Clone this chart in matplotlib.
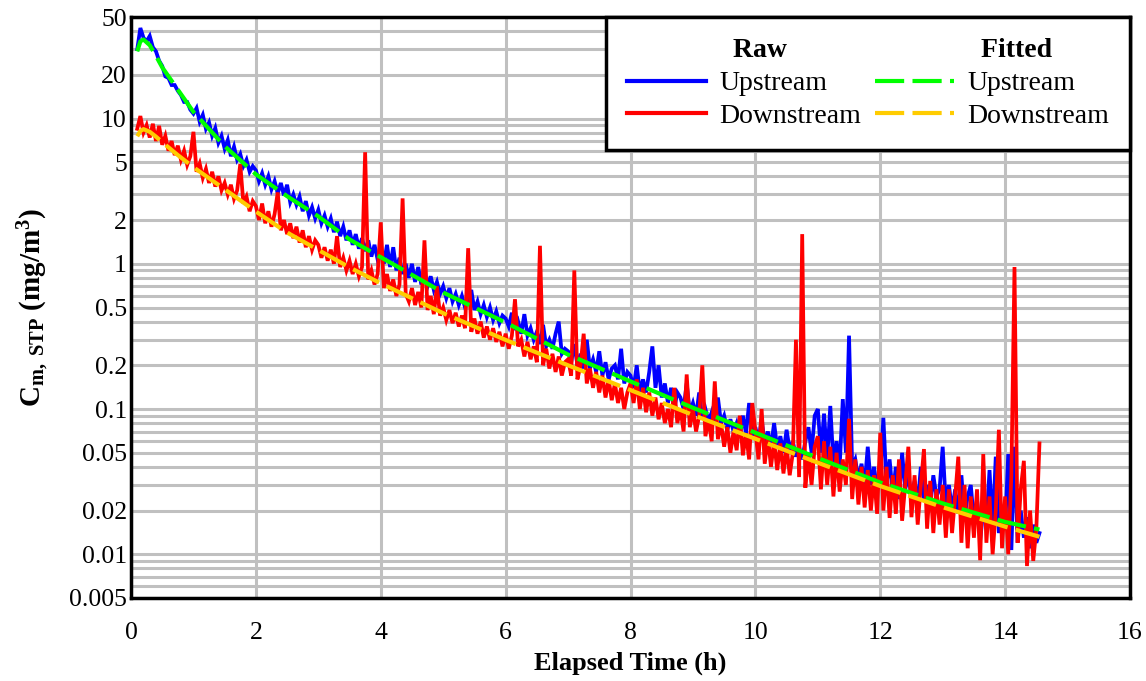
import numpy as np
import matplotlib
matplotlib.use("Agg")
import matplotlib.pyplot as plt
from matplotlib.lines import Line2D
from matplotlib.ticker import FixedLocator, FixedFormatter, LogLocator, NullFormatter

plt.rcParams['font.family'] = ['Liberation Serif', 'DejaVu Serif']
plt.rcParams['mathtext.fontset'] = 'custom'
plt.rcParams['mathtext.rm'] = 'Liberation Serif'
plt.rcParams['mathtext.bf'] = 'Liberation Serif:bold'
plt.rcParams['mathtext.it'] = 'Liberation Serif:italic'

# ---------------- data ----------------
# raw samples every 0.05 h from 0.10 h to 14.55 h
time_raw = np.round(np.arange(0.10, 14.5501, 0.05), 2)

upstream_raw = [
    # 0.10 - 0.95
    30, 42, 36, 34, 37, 31, 29, 25, 23, 19.5, 19, 17, 17, 15.5, 14.5, 13, 13, 11.5,
    # 1.00 - 1.95
    10.8, 11.8, 9.5, 10.6, 8.5, 9.4, 7.6, 8.6, 6.8, 7.6, 6.2, 7.1, 5.5, 6.4, 5.2, 5.7, 4.7, 5.2, 4.3, 4.7,
    # 2.00 - 2.95
    4.4, 3.7, 4.2, 3.5, 4.0, 3.25, 3.7, 3.05, 3.6, 2.95, 3.5, 2.65, 3.0, 2.55, 2.9, 2.3, 2.7, 2.15, 2.45, 2.05,
    # 3.00 - 3.95
    2.35, 1.9, 2.15, 1.8, 2.05, 1.65, 1.95, 1.55, 1.8, 1.45, 1.7, 1.35, 1.6, 1.27, 1.5, 1.22, 1.45, 1.12, 1.35, 1.07,
    # 4.00 - 4.95
    1.2, 1.0, 1.35, 0.95, 1.3, 0.9, 1.1, 0.85, 1.0, 0.8, 1.0, 0.75, 0.95, 0.72, 0.85, 0.7, 0.82, 0.66, 0.75, 0.62,
    # 5.00 - 5.95
    0.7, 0.58, 0.68, 0.55, 0.62, 0.52, 0.6, 0.5, 0.58, 0.66, 0.48, 0.55, 0.45, 0.52, 0.43, 0.5, 0.41, 0.47, 0.39, 0.44,
    # 6.00 - 6.95
    0.42, 0.37, 0.46, 0.35, 0.4, 0.33, 0.45, 0.32, 0.36, 0.3, 0.34, 0.28, 0.38, 0.27, 0.3, 0.26, 0.33, 0.4, 0.24, 0.26,
    # 7.00 - 7.95
    0.25, 0.21, 0.28, 0.2, 0.24, 0.19, 0.3, 0.19, 0.22, 0.18, 0.25, 0.17, 0.21, 0.16, 0.19, 0.2, 0.16, 0.26, 0.15, 0.18,
    # 8.00 - 8.95
    0.17, 0.14, 0.2, 0.13, 0.16, 0.13, 0.18, 0.27, 0.14, 0.2, 0.12, 0.15, 0.11, 0.14, 0.1, 0.13, 0.12, 0.1, 0.15, 0.095,
    # 9.00 - 9.95
    0.11, 0.09, 0.13, 0.085, 0.1, 0.082, 0.095, 0.078, 0.12, 0.08, 0.09, 0.072, 0.085, 0.07, 0.08, 0.066, 0.09, 0.068, 0.11, 0.064,
    # 10.00 - 10.95
    0.075, 0.06, 0.085, 0.058, 0.07, 0.055, 0.08, 0.054, 0.065, 0.05, 0.072, 0.052, 0.06, 0.047, 0.055, 0.045, 0.06, 0.075, 0.05, 0.09,
    # 11.00 - 11.95
    0.1, 0.05, 0.093, 0.045, 0.105, 0.042, 0.06, 0.04, 0.117, 0.05, 0.32, 0.04, 0.045, 0.033, 0.042, 0.03, 0.055, 0.03, 0.04, 0.028,
    # 12.00 - 12.95
    0.035, 0.087, 0.03, 0.045, 0.026, 0.04, 0.024, 0.05, 0.028, 0.035, 0.025, 0.032, 0.022, 0.04, 0.024, 0.03, 0.021, 0.035, 0.025, 0.028,
    # 13.00 - 13.95
    0.055, 0.022, 0.03, 0.02, 0.028, 0.019, 0.035, 0.018, 0.025, 0.03, 0.017, 0.024, 0.0125, 0.02, 0.016, 0.038, 0.015, 0.047, 0.014, 0.02,
    # 14.00 - 14.55
    0.015, 0.049, 0.0107, 0.055, 0.012, 0.02, 0.013, 0.018, 0.011, 0.016, 0.012, 0.014,
]

downstream_raw = [
    # 0.10 - 0.95
    8.5, 10.4, 8.0, 9.0, 7.4, 9.2, 7.0, 8.9, 6.6, 7.6, 6.0, 7.0, 5.6, 6.5, 5.2, 6.0, 4.8, 5.5,
    # 1.00 - 1.95
    8.1, 4.3, 4.9, 3.9, 4.5, 3.6, 4.3, 3.4, 4.0, 3.2, 3.6, 3.0, 3.5, 2.8, 3.2, 4.85, 2.6, 2.9, 2.3, 2.7,
    # 2.00 - 2.95
    2.5, 2.0, 2.6, 1.9, 2.3, 1.8, 2.2, 3.1, 1.7, 2.0, 1.6, 1.9, 1.5, 1.8, 1.4, 1.7, 1.3, 1.55, 1.25, 1.45,
    # 3.00 - 3.95
    1.35, 1.1, 1.3, 1.05, 1.25, 1.0, 1.55, 0.95, 1.1, 0.9, 1.05, 0.85, 1.0, 0.82, 0.95, 5.86, 0.78, 0.9, 0.72, 0.85,
    # 4.00 - 4.95
    1.93, 0.68, 0.85, 0.65, 0.78, 0.6, 0.72, 2.82, 0.62, 0.55, 0.68, 0.52, 0.64, 0.5, 1.45, 0.48, 0.6, 0.45, 0.7, 0.44,
    # 5.00 - 5.95
    0.5, 0.41, 0.48, 0.39, 0.46, 0.37, 0.44, 0.36, 1.28, 0.34, 0.42, 0.33, 0.4, 0.31, 0.37, 0.3, 0.36, 0.29, 0.34, 0.27,
    # 6.00 - 6.95
    0.33, 0.26, 0.32, 0.57, 0.27, 0.3, 0.23, 0.29, 0.22, 0.27, 0.21, 1.33, 0.2, 0.26, 0.19, 0.24, 0.18, 0.23, 0.17, 0.21,
    # 7.00 - 7.95
    0.22, 0.17, 0.9, 0.16, 0.2, 0.33, 0.15, 0.19, 0.14, 0.18, 0.13, 0.17, 0.12, 0.16, 0.115, 0.15, 0.11, 0.14, 0.1, 0.13,
    # 8.00 - 8.95
    0.15, 0.11, 0.16, 0.1, 0.14, 0.095, 0.13, 0.09, 0.12, 0.085, 0.11, 0.08, 0.1, 0.075, 0.14, 0.08, 0.1, 0.07, 0.173, 0.075,
    # 9.00 - 9.95
    0.1, 0.07, 0.09, 0.2, 0.065, 0.085, 0.06, 0.155, 0.062, 0.08, 0.055, 0.075, 0.05, 0.07, 0.052, 0.09, 0.048, 0.068, 0.045, 0.11,
    # 10.00 - 10.95
    0.07, 0.045, 0.1, 0.042, 0.065, 0.04, 0.06, 0.038, 0.058, 0.036, 0.055, 0.035, 0.05, 0.3, 0.034, 1.6, 0.0287, 0.05, 0.03, 0.055,
    # 11.00 - 11.95
    0.065, 0.028, 0.06, 0.03, 0.055, 0.025, 0.05, 0.027, 0.045, 0.03, 0.0857, 0.024, 0.045, 0.022, 0.04, 0.021, 0.038, 0.02, 0.035, 0.019,
    # 12.00 - 12.95
    0.0687, 0.02, 0.04, 0.0178, 0.035, 0.019, 0.045, 0.017, 0.03, 0.055, 0.018, 0.035, 0.016, 0.03, 0.053, 0.015, 0.032, 0.014, 0.028, 0.016,
    # 13.00 - 13.95
    0.03, 0.013, 0.028, 0.014, 0.025, 0.047, 0.012, 0.03, 0.011, 0.025, 0.013, 0.028, 0.0091, 0.049, 0.012, 0.025, 0.01, 0.02, 0.072, 0.011,
    # 14.00 - 14.55
    0.025, 0.01, 0.035, 0.95, 0.012, 0.028, 0.044, 0.0083, 0.02, 0.009, 0.015, 0.058,
]

# fitted curves
time_fit = [0.10, 0.15, 0.20, 0.30, 0.40, 0.50, 0.75, 1.0, 1.5, 2.0, 2.5, 3.0, 3.5, 4.0, 5.0, 6.0,
            7.0, 8.0, 9.0, 10.0, 11.0, 12.0, 13.0, 14.0, 14.55]
upstream_fit = [29, 34, 35, 32, 27, 22.5, 15.8, 11.1, 6.45, 4.13, 2.92, 2.12, 1.47, 1.11, 0.634, 0.394,
                0.237, 0.155, 0.102, 0.0687, 0.046, 0.0312, 0.0224, 0.0167, 0.0148]
downstream_fit = [7.55, 8.2, 8.45, 8.1, 7.5, 6.87, 5.6, 4.62, 3.26, 2.29, 1.64, 1.245, 0.944, 0.733, 0.457, 0.299,
                  0.20, 0.135, 0.091, 0.0624, 0.0427, 0.0295, 0.0211, 0.0155, 0.0132]

y_ticks = [0.005, 0.01, 0.02, 0.05, 0.1, 0.2, 0.5, 1, 2, 5, 10, 20, 50]
y_tick_labels = ['0.005', '0.01', '0.02', '0.05', '0.1', '0.2', '0.5', '1', '2', '5', '10', '20', '50']
x_ticks = [0, 2, 4, 6, 8, 10, 12, 14, 16]

assert len(upstream_raw) == len(time_raw) == len(downstream_raw)

# ---------------- figure ----------------
fig = plt.figure(figsize=(11.46, 6.81), dpi=100)
ax = fig.add_axes([131 / 1146, 1 - 598 / 681, (1130 - 131) / 1146, (598 - 17) / 681])

ax.set_yscale('log')
ax.set_xlim(0, 16)
ax.set_ylim(0.005, 50)

ax.yaxis.set_major_locator(FixedLocator(y_ticks))
ax.yaxis.set_major_formatter(FixedFormatter(y_tick_labels))
ax.yaxis.set_minor_locator(LogLocator(base=10, subs=np.arange(1, 10), numticks=50))
ax.yaxis.set_minor_formatter(NullFormatter())
ax.set_xticks(x_ticks)
ax.set_xticklabels([str(v) for v in x_ticks])

grid_kw = dict(color='#c0c0c0', linewidth=2.2)
ax.grid(True, which='both', axis='y', **grid_kw)
ax.grid(True, which='major', axis='x', **grid_kw)
ax.set_axisbelow(True)

ax.tick_params(axis='both', which='both', length=0, labelsize=18.5)
ax.tick_params(axis='x', pad=17)
ax.tick_params(axis='y', pad=3)

lw_raw = 2.7
ax.plot(time_raw, upstream_raw, color='#0000ff', lw=lw_raw, solid_joinstyle='miter', zorder=3)
ax.plot(time_raw, downstream_raw, color='#ff0000', lw=lw_raw, solid_joinstyle='miter', zorder=4)
dash = (0, (7, 2))
ax.plot(time_fit, upstream_fit, color='#00ff00', lw=3.0, ls=dash, zorder=5)
ax.plot(time_fit, downstream_fit, color='#ffcc00', lw=3.0, ls=dash, zorder=6)

for s in ax.spines.values():
    s.set_linewidth(2.5)
    s.set_color('black')
    s.set_zorder(10)

ax.set_xlabel('Elapsed Time (h)', fontsize=19, fontweight='bold', labelpad=6)
ax.set_ylabel(r'$\mathbf{C_{m,\ STP}}$ (mg/m$\mathbf{^3}$)', fontsize=21, fontweight='bold', labelpad=12)

# legend
blank = Line2D([], [], color='none')
handles = [blank,
           Line2D([], [], color='#0000ff', lw=3),
           Line2D([], [], color='#ff0000', lw=3),
           blank,
           Line2D([], [], color='#00ff00', lw=3, ls=dash),
           Line2D([], [], color='#ffcc00', lw=3, ls=dash)]
labels = ['  Raw', 'Upstream', 'Downstream', '  Fitted', 'Upstream', 'Downstream']
leg = ax.legend(handles, labels, ncol=2, loc='upper right', bbox_to_anchor=(1.0, 1.0),
                fontsize=20, frameon=True, fancybox=False, framealpha=1,
                edgecolor='black', handlelength=2.85, handletextpad=0.47,
                columnspacing=0.5, labelspacing=0.27, borderpad=0.75, borderaxespad=0.0)
leg.get_frame().set_linewidth(2.5)
leg.set_zorder(20)
for t in leg.get_texts():
    if t.get_text().strip() in ('Raw', 'Fitted'):
        t.set_fontweight('bold')

fig.savefig('out.png', dpi=100)
